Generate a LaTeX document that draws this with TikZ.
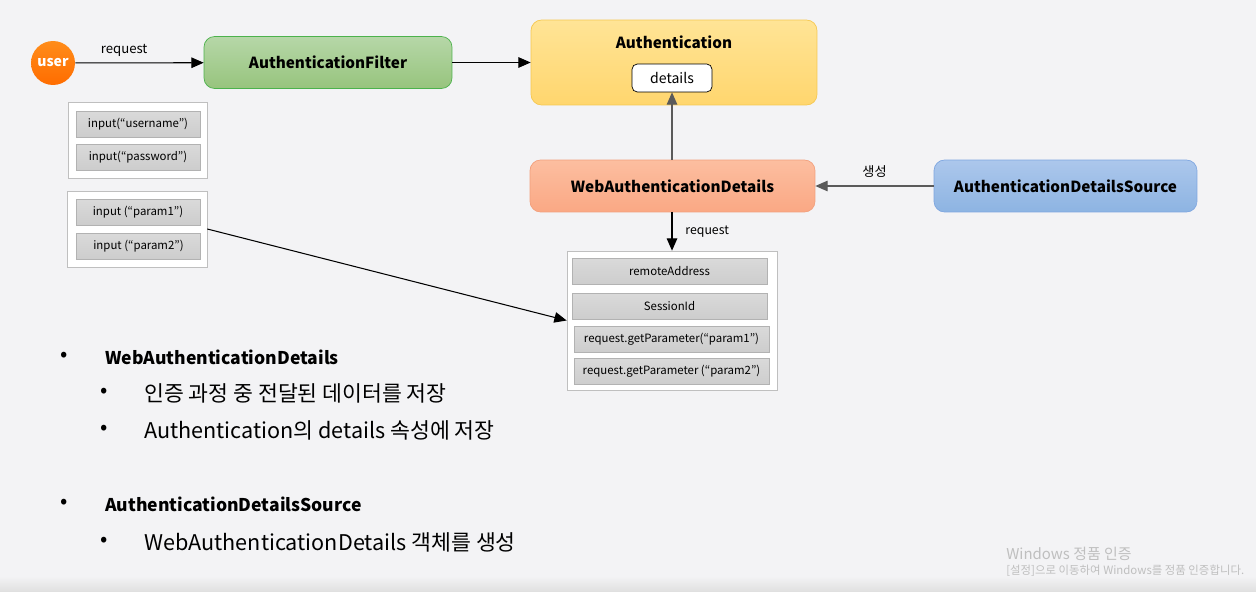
\documentclass[tikz,border=0pt]{standalone}
\usepackage{fontspec}
\setmainfont{Noto Sans CJK KR}
\definecolor{pageGray}{RGB}{243,243,245}
\definecolor{lineGray}{RGB}{90,90,90}
\definecolor{fieldGray}{RGB}{205,205,205}
\usetikzlibrary{arrows.meta}

\begin{document}
\begin{tikzpicture}[
  x=0.02cm, y=-0.02cm,
  >={Triangle[length=7pt,width=6pt]},
  box/.style={
    rounded corners=6pt, align=center, font=\bfseries\fontsize{8.7}{10}\selectfont,
    minimum height=1.04cm
  },
  field/.style={
    draw=black!30, top color=fieldGray!75, bottom color=fieldGray,
    minimum width=2.48cm, minimum height=0.52cm, font=\fontsize{6.5}{8}\selectfont
  },
  frame/.style={draw=black!25, fill=white},
  lbl/.style={font=\fontsize{7.5}{9}\selectfont},
  item/.style={anchor=west, font=\fontsize{12.3}{14}\selectfont},
  arr/.style={->, draw=black, semithick}
]
  \useasboundingbox (0,0) rectangle (1256,591);
  \fill[pageGray] (0,0) rectangle (1256,591);
  \shade[top color=pageGray, bottom color=black!12] (0,576) rectangle (1256,591);

  % top row
  \node[circle, minimum size=0.88cm, inner sep=0pt, top color=orange!90, bottom color=orange!85!red,
    text=white, font=\bfseries\fontsize{8}{9}\selectfont] (user) at (53,63) {user};
  \node[box, minimum width=4.96cm, draw=green!40!gray,
    top color={rgb,255:red,182;green,215;blue,168}, bottom color={rgb,255:red,151;green,196;blue,125}]
    (filter) at (328,62.5) {AuthenticationFilter};
  \node[box, minimum width=5.72cm, minimum height=1.7cm, draw={rgb,255:red,246;green,200;blue,80},
    top color={rgb,255:red,255;green,228;blue,150}, bottom color={rgb,255:red,255;green,214;blue,110}]
    (auth) at (674,62.5) {};
  \node[font=\bfseries\fontsize{8.7}{10}\selectfont] (authTitle) at (674,42) {Authentication};
  \node[draw=black, fill=white, rounded corners=3pt, minimum width=1.6cm, minimum height=0.56cm,
    font=\fontsize{8}{9}\selectfont] (details) at (672,78) {details};

  % middle row
  \node[box, minimum width=5.7cm, draw={rgb,255:red,242;green,160;blue,125},
    top color={rgb,255:red,252;green,190;blue,160}, bottom color={rgb,255:red,250;green,168;blue,132}]
    (wad) at (672.5,186) {WebAuthenticationDetails};
  \node[box, minimum width=5.26cm, draw={rgb,255:red,126;green,166;blue,224},
    top color={rgb,255:red,172;green,199;blue,236}, bottom color={rgb,255:red,141;green,180;blue,226}]
    (ads) at (1065.5,186) {AuthenticationDetailsSource};

  % request fields
  \node[frame, minimum width=4.2cm, minimum height=2.78cm] (reqBox) at (672,320.5) {};
  \node[field, minimum width=3.9cm] (remote) at (669.5,271.5) {remoteAddress};
  \node[field, minimum width=3.9cm] (session) at (669.5,306) {SessionId};
  \node[field, minimum width=3.9cm] (param1) at (671.5,339) {request.getParameter(“param1”)};
  \node[field, minimum width=3.9cm] (param2) at (671.5,371.5) {request.getParameter (“param2”)};

  % user inputs
  \node[frame, minimum width=2.78cm, minimum height=1.52cm] (loginBox) at (137.5,140) {};
  \node[field] (username) at (138,124) {input(“username”)};
  \node[field] (password) at (138,157) {input(“password”)};
  \node[frame, minimum width=2.8cm, minimum height=1.52cm] (paramBox) at (137,229) {};
  \node[field] (input1) at (138,212) {input (“param1”)};
  \node[field] (input2) at (138.5,246) {input (“param2”)};

  % connectors
  \draw[arr] (user) -- node[lbl, above, pos=0.38] {request} (filter);
  \draw[arr] (filter) -- (auth.west |- filter);
  \draw[arr, draw=lineGray] (wad.north -| details) -- (details);
  \draw[arr, draw=lineGray] (ads) -- node[lbl, above=1pt] {생성} (wad);
  \draw[arr] (wad.south -| reqBox) -- node[lbl, right=4pt, font=\fontsize{7}{8}\selectfont] {request} (reqBox);
  \draw[arr] (paramBox.east) -- (reqBox.west);

  % notes
  \node[item] (b1) at (54,357) {•};
  \node[item, font=\bfseries\fontsize{10}{12}\selectfont] (t1) at (99,357) {WebAuthenticationDetails};
  \node[item] (b2) at (94,393) {•};
  \node[item] (t2) at (138,393) {인증 과정 중 전달된 데이터를 저장};
  \node[item] (b3) at (94,430) {•};
  \node[item] (t3) at (138,430) {Authentication의 details 속성에 저장};
  \node[item] (b4) at (54,504) {•};
  \node[item, font=\bfseries\fontsize{10}{12}\selectfont] (t4) at (99,504) {AuthenticationDetailsSource};
  \node[item] (b5) at (94,542) {•};
  \node[item] (t5) at (138,542) {WebAuthenticationDetails 객체를 생성};

  % watermark
  \node[anchor=west, text=black!25, font=\fontsize{8.5}{10}\selectfont, inner sep=0pt] (wm1) at (1006,554) {Windows 정품 인증};
  \node[anchor=west, text=black!25, font=\fontsize{6.5}{7}\selectfont, inner sep=0pt] (wm2) at (1006,571) {[설정]으로 이동하여 Windows를 정품 인증합니다.};
\end{tikzpicture}
\end{document}
